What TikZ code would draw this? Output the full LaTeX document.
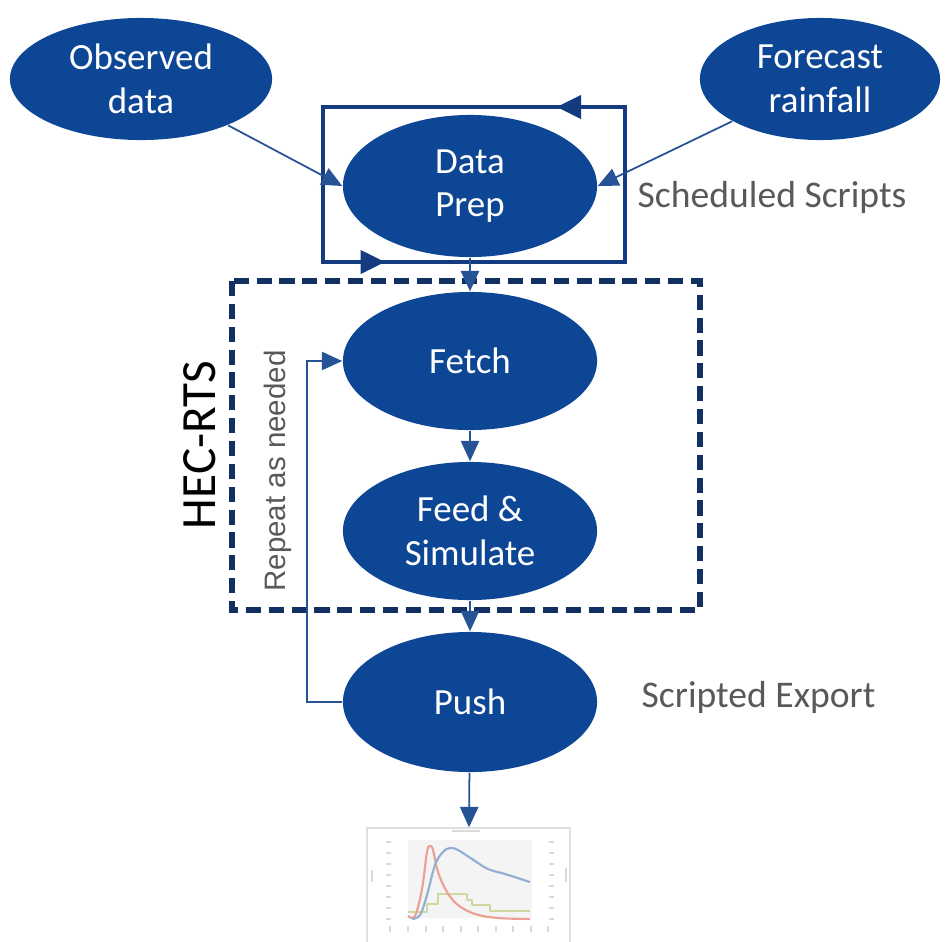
\documentclass[tikz,border=0pt]{standalone}
\usepackage{fontspec}
\setmainfont{Carlito}
\newfontfamily\arialfont{Liberation Sans}
\usetikzlibrary{shapes.geometric}
\usetikzlibrary{arrows.meta}
\usetikzlibrary{decorations.markings}

\definecolor{stepblue}{RGB}{14,70,150}
\definecolor{lineblue}{RGB}{38,82,150}
\definecolor{loopblue}{RGB}{20,58,128}
\definecolor{rtsnavy}{RGB}{18,48,98}
\definecolor{labelgray}{RGB}{89,89,89}
\definecolor{plotred}{RGB}{236,160,148}
\definecolor{plotblue}{RGB}{146,174,210}
\definecolor{plotgreen}{RGB}{204,218,162}

\tikzset{
    stepnode/.style = {ellipse,fill = stepblue,text = white,inner sep = 0pt,
        minimum width = 2.54cm,minimum height = 1.4cm,align = center,
        font = \fontsize{10.5}{12.4}\selectfont},
    flow/.style = {draw = lineblue,line width = 0.5pt,
        arrows = -{Triangle[length=5.8pt,width=5.2pt]}},
    sidelabel/.style = {text = labelgray,anchor = west,inner sep = 0pt,
        font = \fontsize{10.7}{12.8}\selectfont},
    curve/.style = {line width = 0.6pt,line join = round}
}

\begin{document}
\begin{tikzpicture}[x = 0.01cm,y = -0.01cm]
        %   \draw [help lines,step=100] (0,0) grid (945,942);
        \useasboundingbox (0,0) rectangle (945,942);

        \node [stepnode,minimum width = 2.62cm,minimum height = 1.22cm] (obs) at (141,79) {Observed\\data};
        \node [stepnode,minimum width = 2.4cm,minimum height = 1.22cm] (fcst) at (820,79) {Forecast\\rainfall};
        \node [stepnode,minimum height = 1.42cm] (prep) at (470,186) {Data\\Prep};
        \node [stepnode,minimum height = 1.38cm] (fetch) at (470,361) {Fetch};
        \node [stepnode,minimum height = 1.38cm] (feed) at (470,531) {Feed \&\\Simulate};
        \node [stepnode,minimum height = 1.4cm] (push) at (470,702) {Push};

        % scheduled loop round the data prep
        \draw [loopblue,line width = 1.3pt,postaction = {decorate},
            decoration = {markings,
                mark = at position 0.075 with {\arrow{Triangle[length=7pt,width=6.5pt]}},
                mark = at position 0.568 with {\arrow{Triangle[length=7pt,width=6.5pt]}}}]
            (625,107) -- (323,107) -- (323,262) -- (625,262) -- cycle;

        % HEC-RTS group
        \draw [rtsnavy,line width = 1.8pt,dash pattern = on 4.3pt off 2.2pt] (232,281) rectangle (700,610);

        \draw [flow] (obs) -- (prep.west);
        \draw [flow] (fcst) -- (prep.east);
        \draw [flow] (prep) -- (fetch);
        \draw [flow] (fetch) -- (feed);
        \draw [flow] (feed) -- (push);
        \draw [flow] (push.west) -- ++(-35,0) coordinate (back) |- (fetch.west);

        \node [sidelabel] (sched) at (637,197) {Scheduled Scripts};
        \node [sidelabel] (export) at (641,697) {Scripted Export};
        \node [rotate = 90,inner sep = 0pt,font = \fontsize{14}{16}\selectfont] (rts) at (200,445) {HEC-RTS};
        \node [rotate = 90,inner sep = 0pt,text = labelgray,font = \arialfont\fontsize{8.4}{10}\selectfont] (repeat) at (278,471) {Repeat as needed};

        % exported chart
        \node [draw = gray!25,line width = 0.4pt,minimum width = 2.03cm,minimum height = 1.24cm,inner sep = 0pt] (chart) at (468.5,890) {};
        \draw [flow] (push) -- (chart);
        \fill [gray!9] (408,840) rectangle (532,918);
        \draw [gray!30,line width = 0.8pt] (452,831) -- (480,831);
        \foreach \y in {842,853,864,875,886,897,908,919}
        {
            \draw [gray!30,line width = 0.5pt] (386,\y) -- (391,\y);
            \draw [gray!30,line width = 0.5pt] (549,\y) -- (554,\y);
        }
        \foreach \x in {390,408,426,443,461,478,496,513,531,548}
        {
            \draw [gray!30,line width = 0.4pt] (\x,926) -- (\x,932);
        }
        \draw [gray!30,line width = 0.6pt] (372,870) -- (372,882);
        \draw [gray!30,line width = 0.6pt] (566,868) -- (566,882);
        \draw [curve,plotgreen] (408,912) -- (427,912) -- (427,904) -- (438,904) -- (438,894) -- (467,894)
            -- (467,900) -- (472,900) -- (472,905) -- (490,905) -- (490,911) -- (530,911);
        \draw [curve,plotred] plot [smooth,tension = 0.6] coordinates {(408,916) (415,916) (422,889) (427,852) (430,846) (433,850)
            (438,872) (447,892) (458,905) (475,914) (498,918) (530,919)};
        \draw [curve,plotblue] plot [smooth,tension = 0.6] coordinates {(412,919) (420,915) (427,895) (435,865) (443,852) (450,848)
            (458,850) (472,859) (488,869) (505,874) (530,882)};
    \end{tikzpicture}
\end{document}
